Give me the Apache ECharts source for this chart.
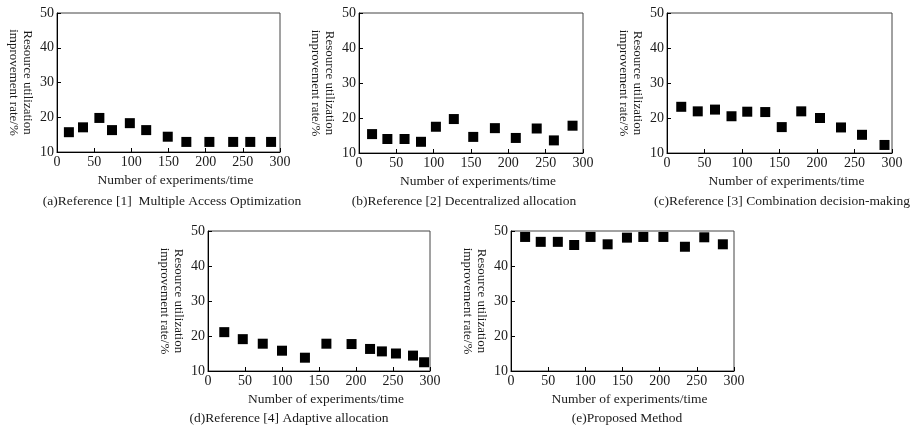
<!DOCTYPE html>
<html><head><meta charset="utf-8">
<script src="https://cdn.jsdelivr.net/npm/echarts@6/dist/echarts.min.js"></script>
<style>html,body{margin:0;padding:0;background:#fff}#c{width:914px;height:428px}</style>
</head><body><div id="c"></div>
<script>
// Data
const xTickValues = [0, 50, 100, 150, 200, 250, 300];
const yTickValues = [10, 20, 30, 40, 50];
const expA = [16, 35, 57, 74, 98, 120, 149, 174, 205, 237, 260, 288];
const rateA = [15.7, 17.1, 19.8, 16.3, 18.3, 16.3, 14.4, 12.9, 12.9, 12.9, 12.9, 12.9];
const expB = [17.5, 38, 61, 83, 103, 127, 153, 182, 210, 238, 261, 286];
const rateB = [15.4, 14.0, 14.0, 13.2, 17.5, 19.7, 14.6, 17.1, 14.3, 17.0, 13.6, 17.8];
const expC = [19, 41, 64, 86, 107, 131, 153, 179, 204, 232, 260, 290];
const rateC = [23.2, 21.9, 22.4, 20.5, 21.8, 21.7, 17.4, 21.9, 20.0, 17.3, 15.2, 12.3];
const expD = [22, 47, 74, 100, 131, 160, 194, 219, 235, 254, 277, 292];
const rateD = [21.1, 19.1, 17.8, 15.8, 13.8, 17.8, 17.7, 16.3, 15.6, 15.0, 14.4, 12.5];
const expE = [19, 40, 63, 85, 107, 130, 156, 178, 205, 234, 260, 285];
const rateE = [48.3, 46.9, 46.9, 46.0, 48.3, 46.2, 48.1, 48.3, 48.3, 45.5, 48.2, 46.2];
const captions = [
  '(a)Reference [1]  Multiple Access Optimization',
  '(b)Reference [2] Decentralized allocation',
  '(c)Reference [3] Combination decision-making',
  '(d)Reference [4] Adaptive allocation',
  '(e)Proposed Method'
];
const xName = 'Number of experiments/time';
const yName = 'Resource utilization\nimprovement rate/%';

const panels = [
  {x: expA, y: rateA, grid: {left: 57, top: 13, width: 223, height: 139}, cap: [172, 201]},
  {x: expB, y: rateB, grid: {left: 359, top: 13, width: 224, height: 140}, cap: [464, 201]},
  {x: expC, y: rateC, grid: {left: 667, top: 13, width: 225, height: 140}, cap: [782, 201]},
  {x: expD, y: rateD, grid: {left: 208, top: 231, width: 222, height: 140}, cap: [289, 418]},
  {x: expE, y: rateE, grid: {left: 511, top: 231, width: 223, height: 140}, cap: [627, 418]}
];
const FONT = '"Liberation Serif", "Times New Roman", serif';
const TXT = '#1a1a1a';

const option = {
  animation: false,
  backgroundColor: '#fff',
  grid: panels.map(p => Object.assign({show: true, borderColor: '#444', borderWidth: 1, backgroundColor: 'transparent'}, p.grid)),
  xAxis: panels.map((p, i) => ({
    gridIndex: i, type: 'value',
    min: xTickValues[0], max: xTickValues[xTickValues.length - 1],
    interval: xTickValues[1] - xTickValues[0],
    splitLine: {show: false},
    axisLine: {show: true, lineStyle: {color: '#000', width: 1}},
    axisTick: {show: true, inside: true, length: 4, lineStyle: {color: '#000'}},
    axisLabel: {color: TXT, fontFamily: FONT, fontSize: 14, margin: 3},
    name: xName, nameLocation: 'middle', nameGap: 21,
    nameTextStyle: {color: TXT, fontFamily: FONT, fontSize: 13.5, padding: [0, 0, 0, 14]}
  })),
  yAxis: panels.map((p, i) => ({
    gridIndex: i, type: 'value',
    min: yTickValues[0], max: yTickValues[yTickValues.length - 1],
    interval: yTickValues[1] - yTickValues[0],
    splitLine: {show: false},
    axisLine: {show: true, lineStyle: {color: '#000', width: 1}},
    axisTick: {show: true, inside: true, length: 4, lineStyle: {color: '#000'}},
    axisLabel: {color: TXT, fontFamily: FONT, fontSize: 14, margin: 3},
    name: yName, nameLocation: 'middle', nameRotate: -90, nameGap: 23,
    nameTextStyle: {color: TXT, fontFamily: FONT, fontSize: 13, lineHeight: 14, align: 'center'}
  })),
  series: panels.map((p, i) => ({
    type: 'scatter', xAxisIndex: i, yAxisIndex: i,
    symbol: 'rect', symbolSize: 10,
    itemStyle: {color: '#000', opacity: 1},
    data: p.x.map((v, k) => [v, p.y[k]])
  })),
  graphic: panels.map((p, i) => ({
    type: 'text', x: p.cap[0], y: p.cap[1],
    style: {text: captions[i], font: '13.5px ' + FONT, fill: TXT, align: 'center', verticalAlign: 'middle'}
  }))
};
const chart = echarts.init(document.getElementById('c'), null, {renderer: 'canvas'});
chart.setOption(option);
</script></body></html>
